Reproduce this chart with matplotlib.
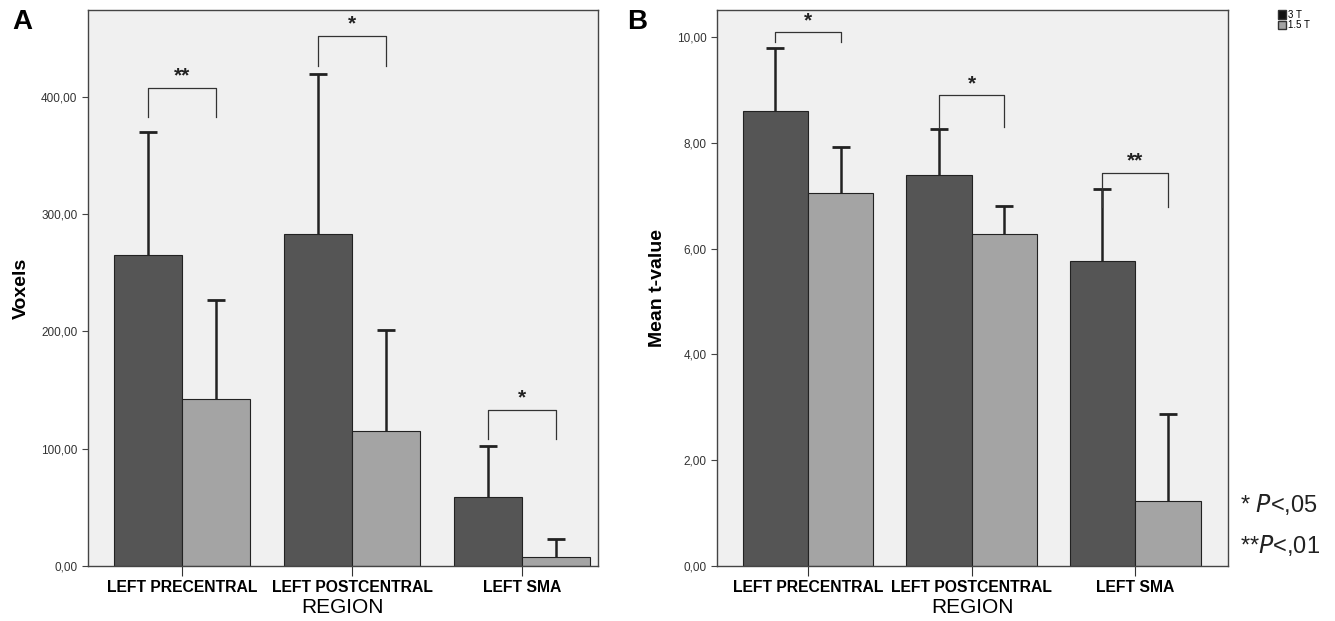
import matplotlib
matplotlib.use("Agg")
import matplotlib.pyplot as plt
import numpy as np
from matplotlib.patches import Patch
from matplotlib.ticker import FuncFormatter

plt.rcParams["font.family"] = ["Liberation Sans", "DejaVu Sans"]

regions = ["LEFT PRECENTRAL", "LEFT POSTCENTRAL", "LEFT SMA"]
series = ["3 T", "1.5 T"]

# panel A: voxels
vox_3t = [265, 283, 59]
vox_3t_hi = [370, 420, 102]
vox_15t = [142, 115, 8]
vox_15t_hi = [227, 201, 23]
vox_sig = ["**", "*", "*"]

# panel B: mean t-value
tval_3t = [8.60, 7.40, 5.77]
tval_3t_hi = [9.80, 8.27, 7.12]
tval_15t = [7.05, 6.28, 1.23]
tval_15t_hi = [7.93, 6.80, 2.88]
tval_sig = ["*", "*", "**"]

C_DARK, C_LIGHT, C_BG = "#555555", "#a4a4a4", "#f0f0f0"
W = 0.40


def comma(v, _):
    return f"{v:.2f}".replace(".", ",")


def panel(ax, d3, h3, d15, h15, sig, br_top, br_leg, ylim, yticks, ylabel, xlim):
    x = np.arange(len(regions))
    ax.set_facecolor(C_BG)
    for xs, vals, hi, col in [(x - W / 2, d3, h3, C_DARK), (x + W / 2, d15, h15, C_LIGHT)]:
        ax.bar(xs, vals, W, color=col, edgecolor="#222222", lw=0.8, zorder=2)
        # upper-only error bars, cap at the top only
        ax.vlines(xs, vals, hi, color="#222222", lw=1.8, zorder=3)
        ax.plot(xs, hi, ls="none", marker="_", ms=13, mew=2.0, color="#222222", zorder=3)
    for i, s in enumerate(sig):
        x1, x2 = x[i] - W / 2, x[i] + W / 2
        ax.plot([x1, x1, x2, x2], [br_leg[i], br_top[i], br_top[i], br_leg[i]],
                color="#333333", lw=0.9, zorder=3)
        ax.text(x[i], br_top[i] + (ylim[1] - ylim[0]) * 0.004, s, ha="center", va="bottom",
                fontsize=15, fontweight="bold", color="#222222")
    ax.set_xlim(*xlim)
    ax.set_ylim(*ylim)
    ax.set_yticks(yticks)
    ax.yaxis.set_major_formatter(FuncFormatter(comma))
    ax.tick_params(axis="y", labelsize=8.5, length=4, color="#444444", labelcolor="#333333")
    ax.set_xticks(x)
    ax.set_xticklabels(regions, fontsize=11.3, fontweight="bold")
    ax.tick_params(axis="x", length=7, pad=3, color="#333333")
    ax.set_xlabel("REGION", fontsize=15, labelpad=2)
    ax.set_ylabel(ylabel, fontsize=14, fontweight="bold", labelpad=8)
    for sp in ax.spines.values():
        sp.set_color("#444444")
        sp.set_linewidth(1.0)


fig = plt.figure(figsize=(13.35, 6.21), dpi=100)
axA = fig.add_axes([0.0659, 0.0886, 0.382, 0.895])
axB = fig.add_axes([0.537, 0.0886, 0.383, 0.895])

panel(axA, vox_3t, vox_3t_hi, vox_15t, vox_15t_hi, vox_sig,
      [408, 452, 133], [383, 426, 108], (0, 474), [0, 100, 200, 300, 400], "Voxels",
      (-0.553, 2.447))
panel(axB, tval_3t, tval_3t_hi, tval_15t, tval_15t_hi, tval_sig,
      [10.09, 8.9, 7.43], [9.9, 8.3, 6.79], (0, 10.51), [0, 2, 4, 6, 8, 10], "Mean t-value",
      (-0.557, 2.569))

fig.text(0.009, 0.965, "A", fontsize=20, fontweight="bold", va="center")
fig.text(0.470, 0.965, "B", fontsize=20, fontweight="bold", va="center")

fig.legend(handles=[Patch(facecolor="#111111", edgecolor="#333333", label=series[0]),
                    Patch(facecolor=C_LIGHT, edgecolor="#333333", label=series[1])],
           loc="upper left", bbox_to_anchor=(0.954, 0.992), frameon=False, fontsize=7,
           handlelength=0.8, handleheight=1.0, handletextpad=0.2, labelspacing=0.05,
           borderpad=0)

fig.text(0.929, 0.187, r"* $\it{P}$<,05", fontsize=17, va="center", color="#222222")
fig.text(0.929, 0.122, r"**$\it{P}$<,01", fontsize=17, va="center", color="#222222")

fig.savefig("out.png", dpi=100)
